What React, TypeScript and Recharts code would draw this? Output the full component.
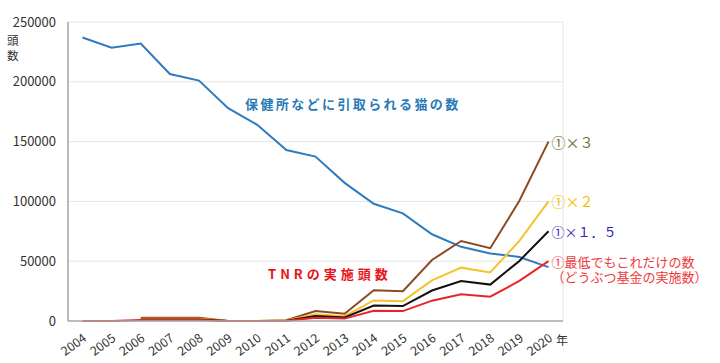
import { LineChart, Line, XAxis, YAxis, CartesianGrid, LabelList } from 'recharts';

const years = ['2004', '2005', '2006', '2007', '2008', '2009', '2010', '2011', '2012', '2013', '2014', '2015', '2016', '2017', '2018', '2019', '2020'];

// 保健所などに引取られる猫の数
const shelter = [237000, 228500, 232000, 206500, 201000, 178000, 164000, 143000, 137500, 115500, 98000, 90000, 72500, 62000, 56500, 53500, 45000];
// ① TNR 実施頭数 (どうぶつ基金)
const tnr = [0, 0, 900, 900, 900, 0, 0, 200, 2800, 2000, 8600, 8300, 17000, 22300, 20300, 33500, 50000];
const tnrX15 = [null, null, 1350, 1350, 1350, 0, 0, 300, 4200, 3000, 12900, 12450, 25500, 33450, 30450, 50250, 75000];
const tnrX2 = [null, null, 1800, 1800, 1800, 0, 0, 400, 5600, 4000, 17200, 16600, 34000, 44600, 40600, 67000, 100000];
const tnrX3 = [null, null, 2700, 2700, 2700, 0, 0, 600, 8400, 6000, 25800, 24900, 51000, 66900, 60900, 100500, 150000];

const yTicks = [0, 50000, 100000, 150000, 200000, 250000];
const gridTicks = years.map((_, i) => i).concat([years.length]);

const data = years.map((year, i) => ({
    year,
    shelter: shelter[i],
    tnr: tnr[i],
    tnrX15: tnrX15[i],
    tnrX2: tnrX2[i],
    tnrX3: tnrX3[i],
}));

const FONT = '"Noto Sans CJK JP", "Noto Sans", sans-serif';
const FRAME = '#a8a8a8';
const last = years.length - 1;

function YearTick({ x, y, payload }: any) {
    const ax = x + 5;
    const ay = y + 11;
    return (
        <text x={ax} y={ay} transform={`rotate(-36, ${ax}, ${ay})`} textAnchor="end" fontSize={12.5} fill="#333" fontFamily={FONT}>
            {payload.value}
        </text>
    );
}

function endLabel(lines: string[], color: string, size = 14) {
    return (props: any) => {
        if (props.index !== last) return null;
        const x = (props.x ?? props.viewBox?.x) + 3;
        const y = props.y ?? props.viewBox?.y;
        return (
            <g>
                {lines.map((t, i) => (
                    <text key={i} x={x} y={y + i * 15} dominantBaseline="central" fontSize={size} fill={color} fontFamily={FONT}>
                        {t}
                    </text>
                ))}
            </g>
        );
    };
}

export default function App() {
    return (
        <div style={{ position: 'absolute', left: 0, top: 0, width: 720, height: 363, background: '#fff', fontFamily: FONT }}>
            <LineChart width={720} height={363} data={data} margin={{ top: 22, right: 157, left: 0, bottom: 0 }}>
                <CartesianGrid xAxisId="grid" stroke="#e6e6e6" />
                <XAxis xAxisId="grid" type="number" orientation="top" domain={[0, years.length]} ticks={gridTicks} height={0} tick={false} tickLine={false} axisLine={{ stroke: FRAME, strokeWidth: 1.5 }} />
                <XAxis dataKey="year" height={42} interval={0} padding={{ left: 14.5, right: 14.5 }} tickLine={false} axisLine={{ stroke: FRAME, strokeWidth: 1.5 }} tick={<YearTick />} />
                <YAxis domain={[0, 250000]} ticks={yTicks} width={68} tickLine={false} tickMargin={6} axisLine={{ stroke: FRAME, strokeWidth: 1.5 }} tick={{ fontSize: 13, fill: '#333', fontFamily: FONT }} />
                <YAxis yAxisId="r" orientation="right" width={0} tick={false} tickLine={false} axisLine={{ stroke: FRAME, strokeWidth: 1.5 }} />
                <Line dataKey="shelter" stroke="#2e7bbf" strokeWidth={2} dot={false} isAnimationActive={false} />
                <Line dataKey="tnrX3" stroke="#8b4a22" strokeWidth={2} dot={false} isAnimationActive={false}>
                    <LabelList content={endLabel(['①×３'], '#66722c')} />
                </Line>
                <Line dataKey="tnrX2" stroke="#f2c42a" strokeWidth={2} dot={false} isAnimationActive={false}>
                    <LabelList content={endLabel(['①×２'], '#f0c000')} />
                </Line>
                <Line dataKey="tnrX15" stroke="#111" strokeWidth={2} dot={false} isAnimationActive={false}>
                    <LabelList content={endLabel(['①×１．５'], '#3420b4', 13)} />
                </Line>
                <Line dataKey="tnr" stroke="#e8242a" strokeWidth={2} dot={false} isAnimationActive={false}>
                    <LabelList content={endLabel(['①最低でもこれだけの数', '（どうぶつ基金の実施数）'], '#ee3a3a', 13)} />
                </Line>
            </LineChart>
            <div style={{ position: 'absolute', left: 245, top: 95, fontSize: 13, lineHeight: '18px', fontWeight: 700, letterSpacing: 2.4, color: '#2a7ab8', whiteSpace: 'nowrap' }}>
                保健所などに引取られる猫の数
            </div>
            <div style={{ position: 'absolute', left: 268, top: 265, fontSize: 13, lineHeight: '18px', fontWeight: 700, letterSpacing: 4, color: '#e8141c', whiteSpace: 'nowrap' }}>
                TNRの実施頭数
            </div>
            <div style={{ position: 'absolute', left: 7, top: 33, fontSize: 11.5, lineHeight: '15px', color: '#333' }}>
                頭<br />数
            </div>
            <div style={{ position: 'absolute', left: 556, top: 332, fontSize: 12, lineHeight: '16px', color: '#333' }}>
                年
            </div>
        </div>
    );
}
